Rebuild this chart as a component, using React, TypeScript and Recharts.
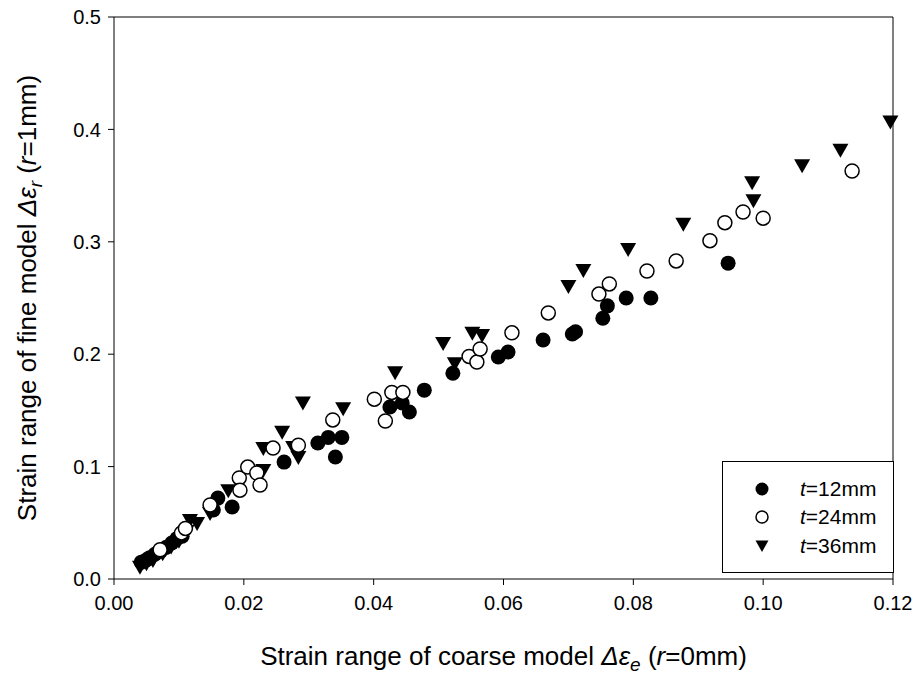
import React from "react";
import { ScatterChart, Scatter, XAxis, YAxis, ReferenceLine, Legend } from "recharts";

// values: [coarse strain range, fine strain range]
const t12: [number, number][] = [
  [0.0042, 0.015], [0.005, 0.017], [0.0055, 0.019], [0.0063, 0.022], [0.0072, 0.025],
  [0.008, 0.028], [0.0089, 0.032], [0.0097, 0.036], [0.0105, 0.038], [0.0153, 0.0614],
  [0.016, 0.072], [0.0182, 0.064], [0.0262, 0.104], [0.0314, 0.121], [0.033, 0.126],
  [0.0351, 0.126], [0.0341, 0.1085], [0.0425, 0.153], [0.0444, 0.1566], [0.0455, 0.1486],
  [0.0478, 0.168], [0.0522, 0.183], [0.0592, 0.1975], [0.0607, 0.202], [0.0661, 0.2126],
  [0.0706, 0.218], [0.0711, 0.22], [0.0753, 0.232], [0.076, 0.243], [0.0789, 0.25],
  [0.0827, 0.25], [0.0946, 0.281],
];

const t24: [number, number][] = [
  [0.0071, 0.026], [0.0104, 0.041], [0.011, 0.045],
  [0.0148, 0.0658], [0.0193, 0.0899], [0.0194, 0.079], [0.0206, 0.0996], [0.022, 0.0943],
  [0.0225, 0.0836], [0.0245, 0.1165], [0.0284, 0.119], [0.0337, 0.1415], [0.0401, 0.16],
  [0.0418, 0.1406], [0.0428, 0.166], [0.0445, 0.166], [0.0547, 0.198], [0.0559, 0.193],
  [0.0564, 0.2046], [0.0613, 0.219], [0.0669, 0.2367], [0.0747, 0.2535], [0.0763, 0.2625],
  [0.0821, 0.274], [0.0866, 0.283], [0.0918, 0.301], [0.0941, 0.317], [0.0969, 0.3265],
  [0.1, 0.321], [0.1137, 0.363],
];

const t36: [number, number][] = [
  [0.004, 0.011], [0.005, 0.014], [0.006, 0.017], [0.0075, 0.023], [0.0088, 0.029],
  [0.01, 0.034], [0.0112, 0.043], [0.0117, 0.0525], [0.0128, 0.0498], [0.0148, 0.0587],
  [0.0176, 0.079], [0.023, 0.097], [0.023, 0.1165], [0.0259, 0.131], [0.0276, 0.1174],
  [0.0284, 0.1085], [0.0291, 0.157], [0.0353, 0.152], [0.0433, 0.184], [0.0507, 0.21],
  [0.0525, 0.192], [0.0552, 0.219], [0.0567, 0.217], [0.07, 0.2607], [0.0723, 0.275],
  [0.0792, 0.2936], [0.0877, 0.316], [0.0983, 0.353], [0.0985, 0.337], [0.106, 0.368],
  [0.1119, 0.382], [0.1196, 0.407],
];

const xTicks = [0, 0.02, 0.04, 0.06, 0.08, 0.1, 0.12];
const yTicks = [0, 0.1, 0.2, 0.3, 0.4, 0.5];
const legendLabels = ["12mm", "24mm", "36mm"];

const toPoints = (arr: [number, number][]) => arr.map(([x, y]) => ({ x, y }));

const FONT = "'Liberation Sans', Arial, sans-serif";

const FilledDot = (p: any) => <circle cx={p.cx} cy={p.cy} r={7.5} fill="#000" />;
const OpenDot = (p: any) => (
  <circle cx={p.cx} cy={p.cy} r={7} fill="#fff" stroke="#000" strokeWidth={1.5} />
);
const Tri = (p: any) => (
  <path
    d={`M${p.cx - 8},${p.cy - 6} L${p.cx + 8},${p.cy - 6} L${p.cx},${p.cy + 8} Z`}
    fill="#000"
  />
);

const XTitle = () => (
  <text x={503.5} y={665} textAnchor="middle" fontFamily={FONT} fontSize={26} fill="#000">
    Strain range of coarse model{" "}
    <tspan fontStyle="italic">Δε</tspan>
    <tspan fontStyle="italic" fontSize={19} dy={6}>e</tspan>
    <tspan dy={-6}> (</tspan>
    <tspan fontStyle="italic">r</tspan>
    <tspan>=0mm)</tspan>
  </text>
);

const YTitle = () => (
  <text
    x={0}
    y={0}
    transform="translate(36,298) rotate(-90)"
    textAnchor="middle"
    fontFamily={FONT}
    fontSize={26}
    fill="#000"
  >
    Strain range of fine model{" "}
    <tspan fontStyle="italic">Δε</tspan>
    <tspan fontStyle="italic" fontSize={19} dy={6}>r</tspan>
    <tspan dy={-6}> (</tspan>
    <tspan fontStyle="italic">r</tspan>
    <tspan>=1mm)</tspan>
  </text>
);

const legendIcons = [
  <circle cx={8} cy={8} r={6.5} fill="#000" />,
  <circle cx={8} cy={8} r={6} fill="#fff" stroke="#000" strokeWidth={1.5} />,
  <path d="M1.5,2.5 L14.5,2.5 L8,14 Z" fill="#000" />,
];

const renderLegend = () => (
  <div
    style={{
      position: "relative",
      width: 172,
      height: 112,
      boxSizing: "border-box",
      border: "1px solid #000",
      background: "#fff",
      fontFamily: FONT,
      fontSize: 21,
      color: "#000",
    }}
  >
    {legendLabels.map((lab, i) => (
      <div
        key={lab}
        style={{ position: "absolute", left: 0, top: [27, 55, 84][i] - 12, height: 24, width: "100%" }}
      >
        <svg width={16} height={16} style={{ position: "absolute", left: 31, top: 4 }}>
          {legendIcons[i]}
        </svg>
        <span style={{ position: "absolute", left: 77, top: 0, lineHeight: "24px" }}>
          <i>t</i>={lab}
        </span>
      </div>
    ))}
  </div>
);

export default function App() {
  const tick = { fill: "#000", fontSize: 20, fontFamily: FONT };
  return (
    <div style={{ width: 920, height: 681, background: "#fff" }}>
      <style>{"body{margin:0}"}</style>
      <ScatterChart width={920} height={681} margin={{ top: 17, right: 27, left: 0, bottom: 0 }}>
        <XAxis
          type="number"
          dataKey="x"
          domain={[0, 0.12]}
          ticks={xTicks}
          interval={0}
          tickFormatter={(v: number) => v.toFixed(2)}
          height={102}
          tickSize={6}
          tickMargin={11}
          tick={tick}
          stroke="#000"
          label={{ content: () => <XTitle /> }}
        />
        <YAxis
          type="number"
          dataKey="y"
          domain={[0, 0.5]}
          ticks={yTicks}
          interval={0}
          tickFormatter={(v: number) => v.toFixed(1)}
          width={114}
          tickSize={6}
          tickMargin={7}
          tick={tick}
          stroke="#000"
          label={{ content: () => <YTitle /> }}
        />
        <ReferenceLine y={0.5} stroke="#000" />
        <ReferenceLine x={0.12} stroke="#000" />
        <Legend
          content={renderLegend}
          layout="vertical"
          align="center"
          verticalAlign="middle"
          wrapperStyle={{ left: 722, top: 461, width: 172, height: 112 }}
        />
        <Scatter name="t=12mm" data={toPoints(t12)} shape={FilledDot} isAnimationActive={false} />
        <Scatter name="t=36mm" data={toPoints(t36)} shape={Tri} isAnimationActive={false} />
        <Scatter name="t=24mm" data={toPoints(t24)} shape={OpenDot} isAnimationActive={false} />
      </ScatterChart>
    </div>
  );
}
